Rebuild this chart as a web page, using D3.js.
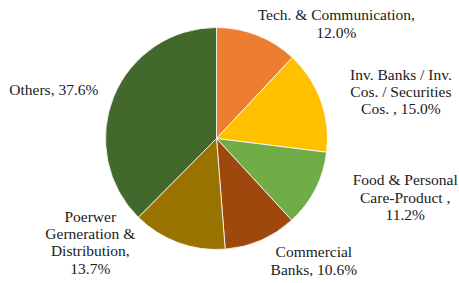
<!DOCTYPE html>
<html>
<head>
<meta charset="utf-8">
<script src="https://cdn.jsdelivr.net/npm/d3@7/dist/d3.min.js"></script>
<style>
  html, body { margin: 0; padding: 0; background: #fff; }
</style>
</head>
<body>
<div id="chart"></div>
<script>
const categories = [
  ['Tech. & Communication,', '12.0%'],
  ['Inv. Banks / Inv.', 'Cos. / Securities', 'Cos. , 15.0%'],
  ['Food & Personal', 'Care-Product ,', '11.2%'],
  ['Commercial', 'Banks, 10.6%'],
  ['Poerwer', 'Gerneration &', 'Distribution,', '13.7%'],
  ['Others, 37.6%']
]
const values = [12.0, 15.0, 11.2, 10.6, 13.7, 37.6]
const colors = ['#ED7D31', '#FFC000', '#70AD47', '#9E480E', '#997300', '#43682B']

// label nudges from the slice's outer mid point, to the first baseline
const labelOffsets = [[79, -15], [80, -21], [90, -4], [53, 17], [-88, -21], [-60, -1]]

const W = 459
const H = 283
const CX = 216.5
const CY = 138.5
const R = 111
const LINE_H = 17.3

const svg = d3.select('#chart').append('svg').attr('width', W).attr('height', H)

svg.append('rect').attr('width', W).attr('height', H).attr('fill', '#ffffff')

const pie = d3.pie().sort(null).value((d) => d)
const arcs = pie(values)
const arc = d3.arc().innerRadius(0).outerRadius(R)
const outerArc = d3.arc().innerRadius(R).outerRadius(R)

const g = svg.append('g').attr('transform', `translate(${CX} ${CY})`)

g.selectAll('path')
  .data(arcs)
  .join('path')
  .attr('d', arc)
  .attr('fill', (d, i) => colors[i])
  .attr('stroke', '#ffffff')
  .attr('stroke-width', 0.8)

const labels = g
  .selectAll('text')
  .data(arcs)
  .join('text')
  .attr('text-anchor', 'middle')
  .style('font-family', "'Liberation Serif', Tinos, 'Times New Roman', 'DejaVu Serif', serif")
  .attr('font-size', 15.5)
  .attr('fill', '#1a1a1a')
  .attr('transform', (d, i) => {
    const [x, y] = outerArc.centroid(d)
    return `translate(${x + labelOffsets[i][0]} ${y + labelOffsets[i][1]})`
  })

labels
  .selectAll('tspan')
  .data((d, i) => categories[i])
  .join('tspan')
  .attr('x', 0)
  .attr('y', (t, j) => j * LINE_H)
  .text((t) => t)
</script>
</body>
</html>
